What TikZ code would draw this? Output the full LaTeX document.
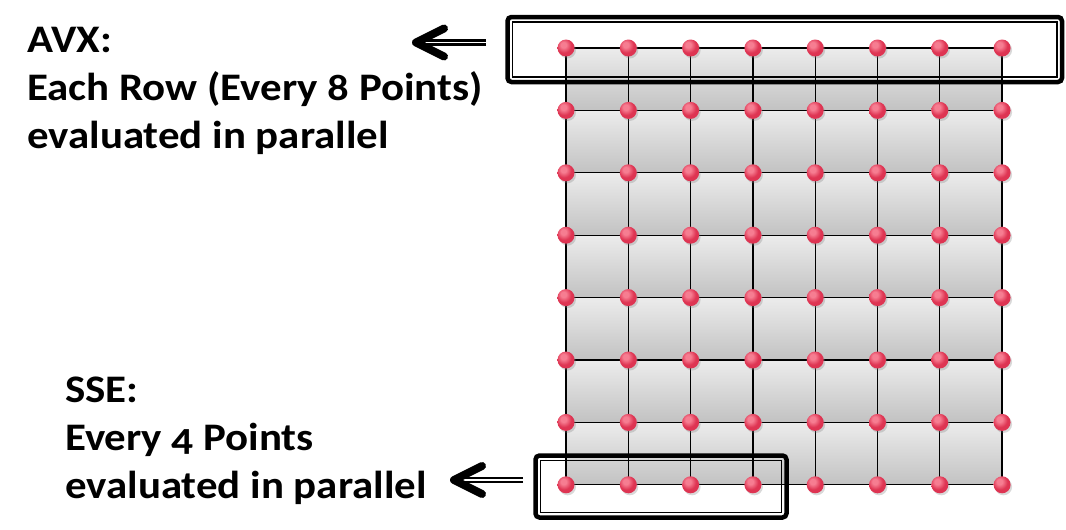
\documentclass[tikz,border=0pt]{standalone}
\usepackage{fontspec}
\newfontfamily\labelfont[FakeStretch=1.1,Numbers=OldStyle]{Carlito}
\usetikzlibrary{shadows}
\definecolor{dothi}{RGB}{246,125,145}
\definecolor{dotred}{RGB}{222,52,82}
\definecolor{dotdark}{RGB}{175,32,58}
\definecolor{cellhi}{RGB}{236,236,236}
\definecolor{celllo}{RGB}{194,194,194}
\pgfdeclareradialshading{dotball}{\pgfpoint{-8bp}{10bp}}{color(0bp)=(dothi); color(8bp)=(dothi); color(22bp)=(dotred); color(38bp)=(dotred); color(50bp)=(dotdark); color(100bp)=(dotdark)}
\tikzstyle{cell} = [
    draw=black,
    line width=1.3pt,
    top color=cellhi,
    bottom color=celllo
]
\tikzstyle{dot} = [
    circle,
    minimum size=17pt,
    inner sep=0pt,
    shading=dotball,
    drop shadow={opacity=0.3, shadow xshift=1.5pt, shadow yshift=-2pt}
]
\tikzstyle{selbox} = [
    rectangle,
    rounded corners=4pt,
    line width=4.5pt,
    outer sep=0pt,
    draw=black
]
\tikzstyle{innerline} = [line width=1.3pt]
\tikzstyle{caption} = [
    align=left,
    anchor=north west,
    inner sep=0pt,
    font=\labelfont\bfseries\fontsize{39}{48}\selectfont
]
\tikzstyle{shaft} = [line width=2.5pt, double=white, double distance=1.6pt]
\tikzstyle{barb} = [line width=8pt, line cap=round, line join=round]

\begin{document}
\begin{tikzpicture}[x=1pt, y=-1pt]

\useasboundingbox (0,0) rectangle (1066,530);

% grid of cells
\foreach \i in {0,...,6}
  \foreach \j in {0,...,6}
    \draw [cell] (566+62.3*\i, 48+62.4*\j) rectangle ++(62.3,62.4);

% selection boxes
\node (avxbox) [selbox, minimum width=554.5pt, minimum height=65pt] at (784.75,49.5) {};
\draw [innerline] ([shift={(5,5)}]avxbox.north west) rectangle ([shift={(-5,-5)}]avxbox.south east);

\node (ssebox) [selbox, minimum width=251pt, minimum height=62pt] at (661,486.5) {};
\draw [innerline] ([shift={(5,5)}]ssebox.north west) rectangle ([shift={(-5,-5)}]ssebox.south east);

% sample points
\foreach \i in {0,...,7}
  \foreach \j in {0,...,7}
    \node (p\i-\j) [dot] at (566+62.3*\i, 48+62.4*\j) {};

% captions
\node (avx) [caption] at (27,27)
{AVX:\\Each Row (Every 8 Points)\\evaluated in parallel};

\node (sse) [caption] at (65,377)
{SSE:\\Every 4 Points\\evaluated in parallel};

% arrows
\coordinate (avxtail) at (486,42.5);
\coordinate (avxtip) at (416,42.5);
\coordinate (ssetail) at (523,480);
\coordinate (ssetip) at (454,480);

\draw [shaft] (avxtail) -- ([xshift=8pt]avxtip);
\draw [barb] ([shift={(28,-14)}]avxtip) -- (avxtip) -- ([shift={(28,14)}]avxtip);

\draw [shaft] (ssetail) -- ([xshift=8pt]ssetip);
\draw [barb] ([shift={(28,-14)}]ssetip) -- (ssetip) -- ([shift={(28,14)}]ssetip);

\end{tikzpicture}
\end{document}
